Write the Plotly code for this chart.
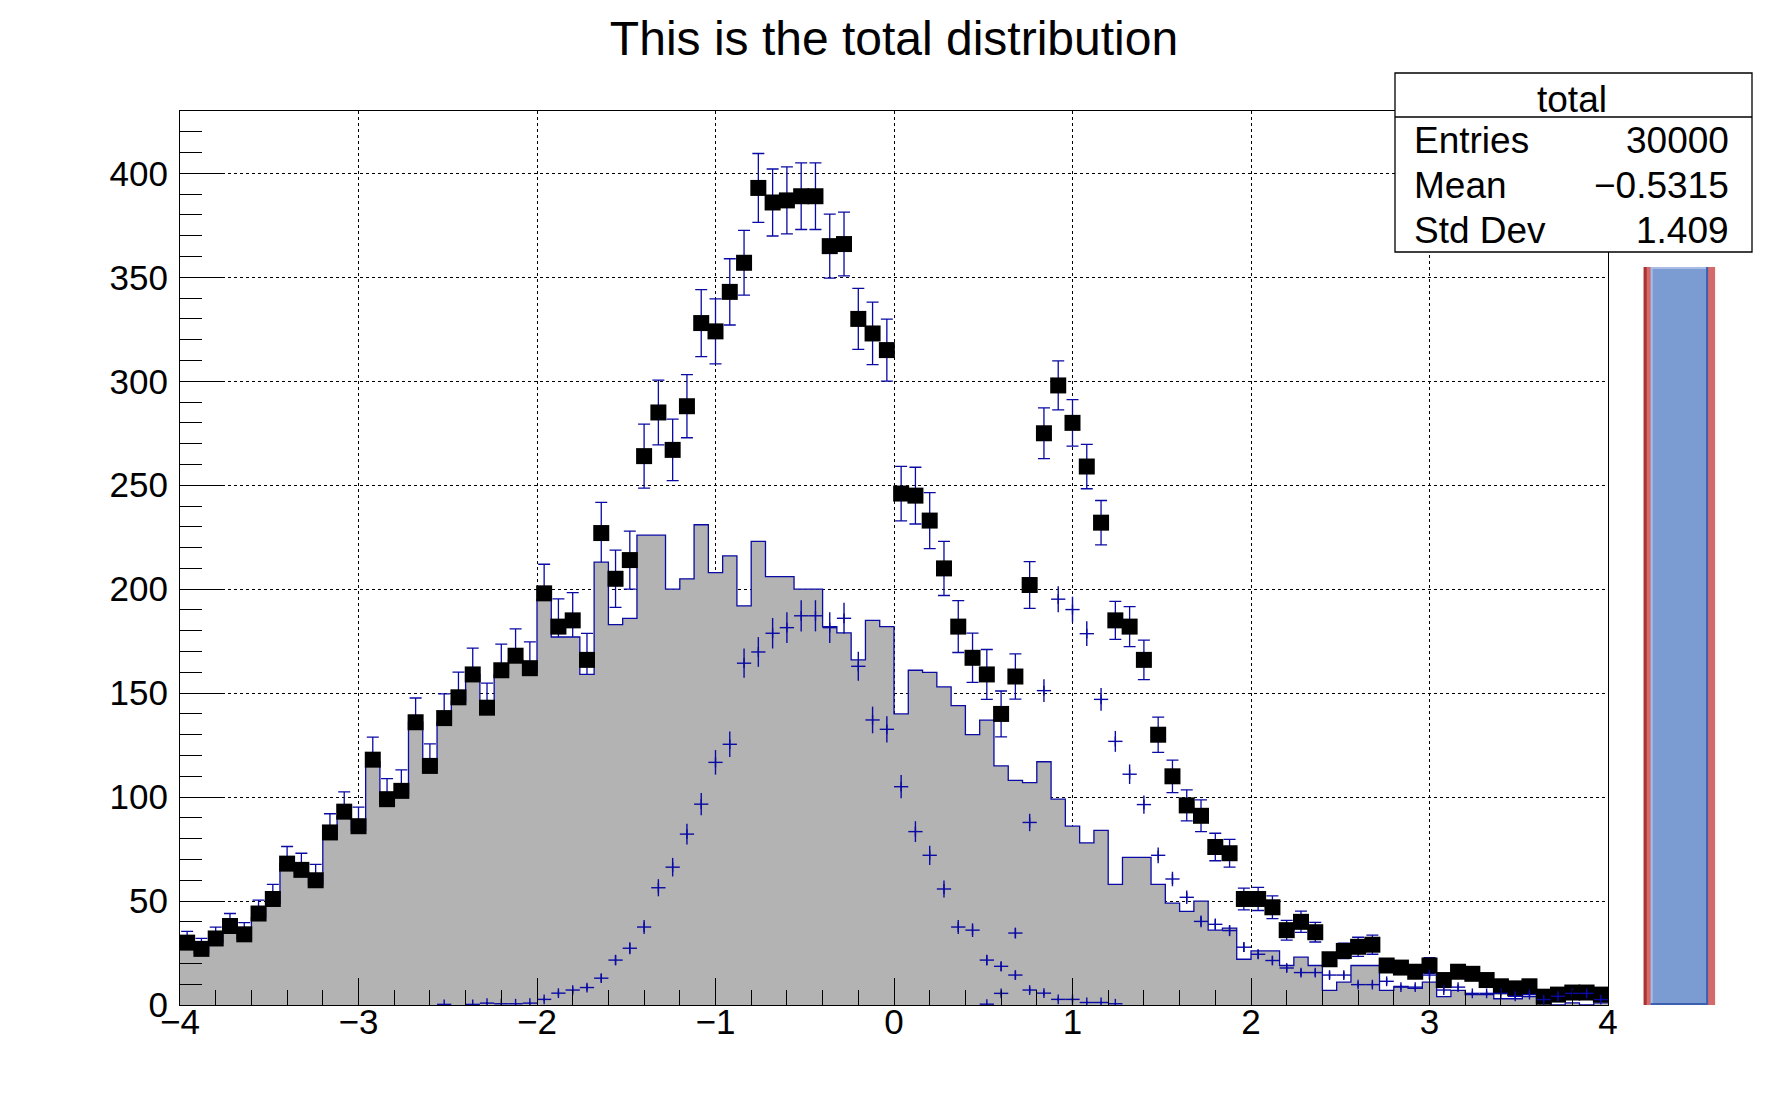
import numpy as np
import plotly.graph_objects as go

# histogram binning: 100 bins from -4 to 4
x_lo, x_hi, nbins = -4.0, 4.0, 100

# "main" contributor (grey filled histogram)
main = [29, 25, 30, 36, 32, 42, 49, 68, 64, 58,
        81, 91, 84, 117, 97, 101, 136, 113, 136, 146,
        159, 140, 159, 166, 160, 195, 177, 177, 159, 213,
        183, 186, 226, 226, 200, 205, 231, 208, 216, 192,
        223, 206, 206, 200, 200, 182, 179, 166, 185, 182,
        140, 161, 160, 153, 144, 130, 137, 115, 108, 107,
        117, 99, 86, 78, 84, 58, 71, 71, 58, 49,
        45, 50, 36, 37, 22, 26, 26, 19, 23, 19,
        7, 11, 19, 19, 7, 9, 8, 11, 4, 7,
        5, 5, 3, 3, 4, 1, 0, 1, 0, 1]

# total distribution (black squares)
total = [30, 27, 32, 38, 34, 44, 51, 68, 65, 60,
         83, 93, 86, 118, 99, 103, 136, 115, 138, 148,
         159, 143, 161, 168, 162, 198, 182, 185, 166, 227,
         205, 214, 264, 285, 267, 288, 328, 324, 343, 357,
         393, 386, 387, 389, 389, 365, 366, 330, 323, 315,
         246, 245, 233, 210, 182, 167, 159, 140, 158, 202,
         275, 298, 280, 259, 232, 185, 182, 166, 130, 110,
         96, 91, 76, 73, 51, 51, 47, 36, 40, 35,
         22, 26, 28, 29, 19, 18, 16, 19, 12, 16,
         15, 12, 9, 8, 9, 4, 5, 6, 6, 5]

# first signal (gaussian, blue crosses)
s1 = [0] * 18 + [0.3, 0, 0.3, 0.9, 0.6, 0.6, 0.9, 2.7, 5.7, 7.2, 8.4, 12.9,
                 21.6, 27.3, 37.5, 56.4, 66.3, 82.2, 96.6, 116.7, 125.4, 164.4,
                 169.8, 178.8, 181.5, 187.2, 187.2, 181.5, 186.0, 162.9, 137.1, 132.6,
                 105.0, 83.4, 72.0, 55.8, 37.5, 36.0, 21.6, 18.6, 14.4, 7.2,
                 5.7, 2.7, 2.7, 1.2, 1.2, 0.6] + [0] * 34

# second signal (landau, blue crosses)
s2 = [0] * 56 + [0.4, 5.6, 34.6, 87.8, 151.2, 195.2, 190.2, 178.6, 147.0, 126.8,
                 111.0, 96.4, 72.0, 60.6, 51.8, 40.2, 38.8, 35.8, 27.8, 24.4,
                 21.4, 17.8, 15.6, 15.6, 14.4, 14.4, 9.8, 9.8, 11.4, 8.6,
                 8.6, 14.4, 7.2, 8.6, 5.6, 5.6, 5.6, 4.2, 5.0, 2.6,
                 4.2, 5.6, 5.6, 2.6]

stat_labels = ["Entries", "Mean", "Std Dev"]
stat_values = ["30000", "\u22120.5315", "1.409"]

BLUE = "#0a0aa5"
FONT = "Liberation Sans, Arial, Helvetica, sans-serif"

edges = np.linspace(x_lo, x_hi, nbins + 1)
centers = 0.5 * (edges[:-1] + edges[1:])
half_bin = 0.5 * (x_hi - x_lo) / nbins

main_a = np.array(main, float)
total_a = np.array(total, float)
s1_a = np.array(s1, float)
s2_a = np.array(s2, float)

# Sumw2 errors (weights 1, 0.3 and 0.2)
err_total = np.sqrt(main_a + 0.3 * s1_a + 0.2 * s2_a)
err_s1 = np.sqrt(0.3 * s1_a)
err_s2 = np.sqrt(0.2 * s2_a)

fig = go.Figure()

# error bars of the total go under the grey fill
fig.add_trace(go.Scatter(
    x=centers, y=total_a, mode="markers",
    marker=dict(size=1, color="rgba(0,0,0,0)"),
    error_y=dict(type="data", array=err_total, color=BLUE, thickness=1.3, width=6),
    hoverinfo="skip"))

fig.add_trace(go.Scatter(
    x=edges, y=np.append(main_a, main_a[-1]), mode="lines",
    line=dict(shape="hv", color=BLUE, width=1.3),
    fill="tozeroy", fillcolor="#b3b3b3"))

fig.add_trace(go.Scatter(
    x=centers, y=total_a, mode="markers",
    marker=dict(symbol="square", size=16, color="black", line_width=0)))

for sig, err in [(s1_a, err_s1), (s2_a, err_s2)]:
    keep = sig > 0
    fig.add_trace(go.Scatter(
        x=centers[keep], y=sig[keep], mode="markers",
        marker=dict(symbol="line-ns", size=7, line=dict(color=BLUE, width=1.4)),
        error_x=dict(type="constant", value=half_bin, color=BLUE, thickness=1.4, width=0),
        error_y=dict(type="data", array=err[keep], color=BLUE, thickness=1.4, width=0)))

axis_common = dict(
    showline=True, linecolor="black", linewidth=1, mirror=True,
    ticks="inside", tickcolor="black", tickwidth=1,
    showgrid=True, gridcolor="black", griddash="dot", gridwidth=1,
    zeroline=False, tickfont=dict(family=FONT, size=35, color="black"),
)

fig.update_xaxes(range=[x_lo, x_hi], tick0=-4, dtick=1, ticklen=27,
                 ticklabelstandoff=-14,
                 minor=dict(ticks="inside", ticklen=15, dtick=0.2, tick0=-4,
                            tickcolor="black", tickwidth=1, showgrid=False),
                 **axis_common)
y_top = 430
fig.update_yaxes(range=[0, y_top], tick0=0, dtick=50, ticklen=43,
                 ticklabelstandoff=4,
                 minor=dict(ticks="inside", ticklen=22, dtick=10, tick0=0,
                            tickcolor="black", tickwidth=1, showgrid=False),
                 **axis_common)

# page has an 8px body margin; plot frame on screen: x 180..1608, y 111..1005
OFF = 8
W, H = 1788 - OFF, 1116 - OFF
left, right, top, bottom = 180, 1608, 111, 1005
pw, ph = right - left, bottom - top


def px_x(px):
    return (px - left) / pw


def px_y(py):
    return (bottom - py) / ph


shapes = []
annots = []

# slider on the right (x 4.2 .. 4.6 in user coords)
sx0 = (4.2 - x_lo) / (x_hi - x_lo)
sx1 = (4.6 - x_lo) / (x_hi - x_lo)
sy1 = 355 / y_top
bx = 7 / pw
shapes += [
    dict(type="rect", xref="paper", yref="paper", x0=sx0, x1=sx1, y0=0, y1=sy1,
         fillcolor="#d46a6a", line_width=0, layer="above"),
    dict(type="rect", xref="paper", yref="paper", x0=sx0, x1=sx0 + 3 / pw, y0=0, y1=sy1,
         fillcolor="#a83434", line_width=0, layer="above"),
    dict(type="rect", xref="paper", yref="paper", x0=sx0 + bx, x1=sx1 - bx, y0=0, y1=sy1,
         fillcolor="#7b9bd3", line_width=0, layer="above"),
    dict(type="line", xref="paper", yref="paper", x0=sx0 + bx + 1 / pw, x1=sx0 + bx + 1 / pw,
         y0=0, y1=sy1, line=dict(color="#aabbe6", width=2), layer="above"),
    dict(type="line", xref="paper", yref="paper", x0=sx0 + bx, x1=sx1 - bx,
         y0=sy1 - 1 / ph, y1=sy1 - 1 / ph, line=dict(color="#aabbe6", width=2), layer="above"),
    dict(type="line", xref="paper", yref="paper", x0=sx1 - bx - 1 / pw, x1=sx1 - bx - 1 / pw,
         y0=0, y1=sy1, line=dict(color="#3c5fae", width=2), layer="above"),
    dict(type="line", xref="paper", yref="paper", x0=sx0 + bx, x1=sx1 - bx,
         y0=1 / ph, y1=1 / ph, line=dict(color="#3c5fae", width=2), layer="above"),
]

# statistics box
bx0, bx1 = px_x(1395), px_x(1752)
by0, by1 = px_y(252), px_y(73)
shapes += [
    dict(type="rect", xref="paper", yref="paper", x0=bx0, x1=bx1, y0=by0, y1=by1,
         fillcolor="white", line=dict(color="black", width=1.3), layer="above"),
    dict(type="line", xref="paper", yref="paper", x0=bx0, x1=bx1,
         y0=px_y(117), y1=px_y(117), line=dict(color="black", width=1.3), layer="above"),
]
annots.append(dict(text="total", xref="paper", yref="paper", x=px_x(1572), y=px_y(99),
                   xanchor="center", yanchor="middle", showarrow=False,
                   font=dict(family=FONT, size=37, color="black")))
for k, (lab, val) in enumerate(zip(stat_labels, stat_values)):
    yy = px_y(140 + 45 * k)
    annots.append(dict(text=lab, xref="paper", yref="paper", x=px_x(1412), y=yy,
                       xanchor="left", yanchor="middle", showarrow=False,
                       font=dict(family=FONT, size=37, color="black")))
    annots.append(dict(text=val, xref="paper", yref="paper", x=px_x(1731), y=yy,
                       xanchor="right", yanchor="middle", showarrow=False,
                       font=dict(family=FONT, size=37, color="black")))

fig.update_layout(
    width=W, height=H,
    margin=dict(l=left - OFF, r=W - (right - OFF), t=top - OFF, b=H - (bottom - OFF)),
    paper_bgcolor="white", plot_bgcolor="white",
    showlegend=False,
    title=dict(text="This is the total distribution", x=0.5, xref="paper",
               xanchor="center", y=1 - (38 - OFF) / H, yref="container", yanchor="middle",
               font=dict(family=FONT, size=48, color="black")),
    shapes=shapes, annotations=annots,
)

fig.write_html("out.html")
